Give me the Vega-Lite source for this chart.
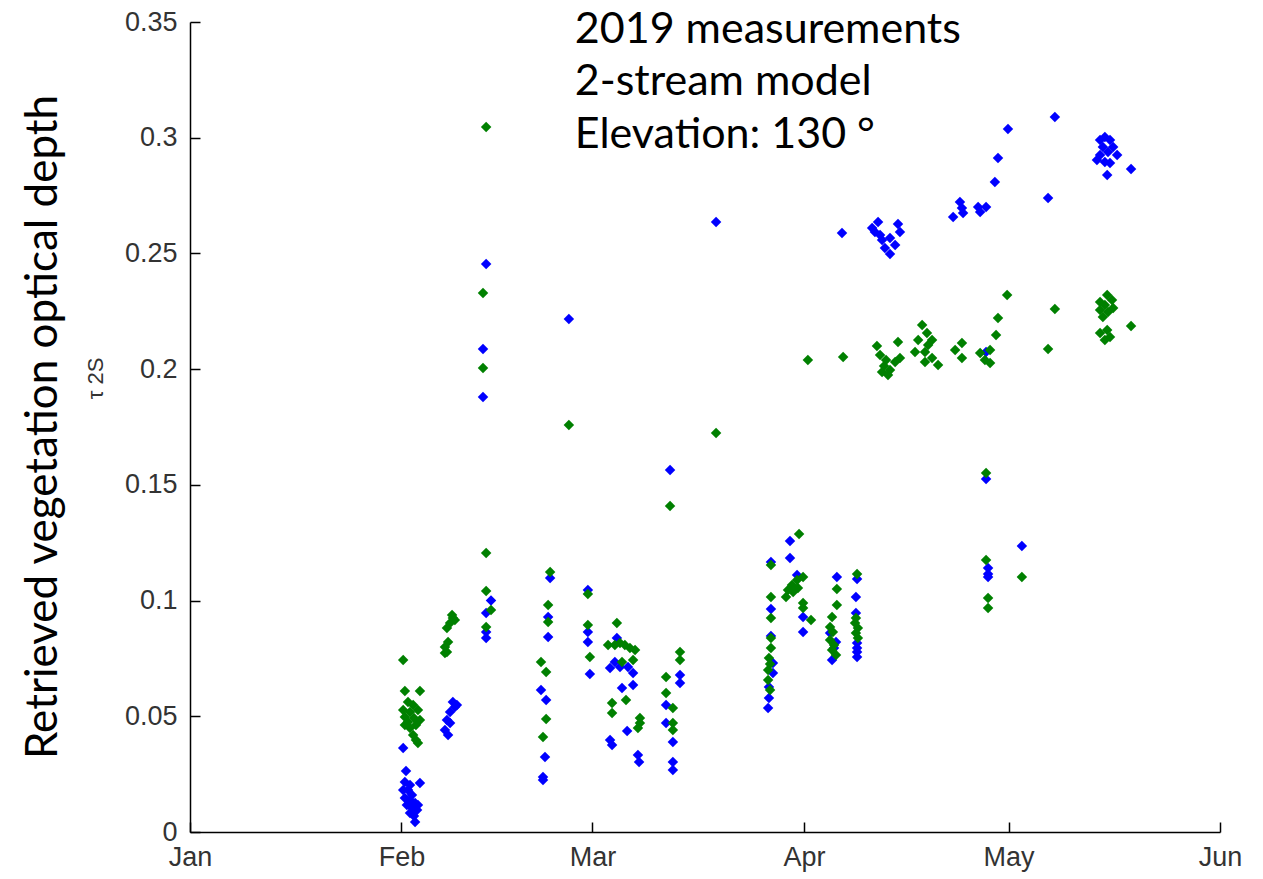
{
  "$schema": "https://vega.github.io/schema/vega-lite/v6.json",
  "width": 1030,
  "height": 810,
  "autosize": {"type": "none"},
  "padding": {"left": 190, "top": 22, "right": 43, "bottom": 47},
  "background": "white",
  "config": {"view": {"stroke": null}},
  "title": {"text": "Retrieved vegetation optical depth", "orient": "left", "anchor": "middle", "font": "Lato", "fontSize": 44, "fontWeight": "normal", "color": "black", "offset": 18},
  "resolve": {"axis": {"x": "independent", "y": "independent"}},
  "datasets": {
    "notes": [
      {"time": "2019-02-26T10:00", "tau": 0.341, "note": "2019 measurements\n2-stream model\nElevation: 130 °"}
    ],
    "points": [
      {"time": "2019-02-01T06:00", "tau": 0.0363, "series": "A"},
      {"time": "2019-02-01T16:00", "tau": 0.0264, "series": "A"},
      {"time": "2019-02-01T12:00", "tau": 0.0216, "series": "A"},
      {"time": "2019-02-02T06:00", "tau": 0.0203, "series": "A"},
      {"time": "2019-02-03T17:00", "tau": 0.0212, "series": "A"},
      {"time": "2019-02-01T06:00", "tau": 0.0181, "series": "A"},
      {"time": "2019-02-01T23:00", "tau": 0.0181, "series": "A"},
      {"time": "2019-02-02T13:00", "tau": 0.016, "series": "A"},
      {"time": "2019-02-01T12:00", "tau": 0.0147, "series": "A"},
      {"time": "2019-02-02T06:00", "tau": 0.0138, "series": "A"},
      {"time": "2019-02-03T00:00", "tau": 0.0125, "series": "A"},
      {"time": "2019-02-01T19:00", "tau": 0.0117, "series": "A"},
      {"time": "2019-02-03T10:00", "tau": 0.0117, "series": "A"},
      {"time": "2019-02-02T13:00", "tau": 0.0104, "series": "A"},
      {"time": "2019-02-03T07:00", "tau": 0.0095, "series": "A"},
      {"time": "2019-02-02T06:00", "tau": 0.0082, "series": "A"},
      {"time": "2019-02-02T20:00", "tau": 0.0069, "series": "A"},
      {"time": "2019-02-03T00:00", "tau": 0.0043, "series": "A"},
      {"time": "2019-02-08T13:00", "tau": 0.0562, "series": "A"},
      {"time": "2019-02-09T03:00", "tau": 0.0549, "series": "A"},
      {"time": "2019-02-08T20:00", "tau": 0.054, "series": "A"},
      {"time": "2019-02-08T03:00", "tau": 0.0519, "series": "A"},
      {"time": "2019-02-07T16:00", "tau": 0.0484, "series": "A"},
      {"time": "2019-02-08T03:00", "tau": 0.0471, "series": "A"},
      {"time": "2019-02-07T09:00", "tau": 0.0441, "series": "A"},
      {"time": "2019-02-07T20:00", "tau": 0.0419, "series": "A"},
      {"time": "2019-02-13T10:00", "tau": 0.2454, "series": "A"},
      {"time": "2019-02-12T23:00", "tau": 0.2087, "series": "A"},
      {"time": "2019-02-12T23:00", "tau": 0.188, "series": "A"},
      {"time": "2019-02-14T03:00", "tau": 0.1, "series": "A"},
      {"time": "2019-02-13T10:00", "tau": 0.0946, "series": "A"},
      {"time": "2019-02-13T10:00", "tau": 0.0864, "series": "A"},
      {"time": "2019-02-13T10:00", "tau": 0.0838, "series": "A"},
      {"time": "2019-02-22T19:00", "tau": 0.1098, "series": "A"},
      {"time": "2019-02-22T12:00", "tau": 0.0929, "series": "A"},
      {"time": "2019-02-22T12:00", "tau": 0.0843, "series": "A"},
      {"time": "2019-02-21T11:00", "tau": 0.0614, "series": "A"},
      {"time": "2019-02-22T05:00", "tau": 0.057, "series": "A"},
      {"time": "2019-02-22T01:00", "tau": 0.0324, "series": "A"},
      {"time": "2019-02-21T18:00", "tau": 0.0238, "series": "A"},
      {"time": "2019-02-21T18:00", "tau": 0.0225, "series": "A"},
      {"time": "2019-02-25T13:00", "tau": 0.2217, "series": "A"},
      {"time": "2019-02-28T08:00", "tau": 0.1046, "series": "A"},
      {"time": "2019-02-28T08:00", "tau": 0.0864, "series": "A"},
      {"time": "2019-02-28T08:00", "tau": 0.0821, "series": "A"},
      {"time": "2019-02-28T15:00", "tau": 0.0683, "series": "A"},
      {"time": "2019-03-04T14:00", "tau": 0.0838, "series": "A"},
      {"time": "2019-03-03T14:00", "tau": 0.0709, "series": "A"},
      {"time": "2019-03-05T01:00", "tau": 0.0713, "series": "A"},
      {"time": "2019-03-06T05:00", "tau": 0.0713, "series": "A"},
      {"time": "2019-03-06T23:00", "tau": 0.0687, "series": "A"},
      {"time": "2019-03-06T23:00", "tau": 0.0635, "series": "A"},
      {"time": "2019-03-05T08:00", "tau": 0.0622, "series": "A"},
      {"time": "2019-03-04T07:00", "tau": 0.0735, "series": "A"},
      {"time": "2019-03-06T02:00", "tau": 0.0436, "series": "A"},
      {"time": "2019-03-03T14:00", "tau": 0.0398, "series": "A"},
      {"time": "2019-03-03T21:00", "tau": 0.0376, "series": "A"},
      {"time": "2019-03-07T16:00", "tau": 0.0333, "series": "A"},
      {"time": "2019-03-07T20:00", "tau": 0.0302, "series": "A"},
      {"time": "2019-03-11T19:00", "tau": 0.0549, "series": "A"},
      {"time": "2019-03-11T19:00", "tau": 0.0471, "series": "A"},
      {"time": "2019-03-12T19:00", "tau": 0.0389, "series": "A"},
      {"time": "2019-03-12T19:00", "tau": 0.0302, "series": "A"},
      {"time": "2019-03-12T19:00", "tau": 0.0268, "series": "A"},
      {"time": "2019-03-13T20:00", "tau": 0.0678, "series": "A"},
      {"time": "2019-03-13T20:00", "tau": 0.0644, "series": "A"},
      {"time": "2019-03-12T09:00", "tau": 0.1564, "series": "A"},
      {"time": "2019-03-19T03:00", "tau": 0.2636, "series": "A"},
      {"time": "2019-03-27T04:00", "tau": 0.1167, "series": "A"},
      {"time": "2019-03-27T04:00", "tau": 0.0964, "series": "A"},
      {"time": "2019-03-27T04:00", "tau": 0.0847, "series": "A"},
      {"time": "2019-03-27T11:00", "tau": 0.073, "series": "A"},
      {"time": "2019-03-27T11:00", "tau": 0.0687, "series": "A"},
      {"time": "2019-03-26T21:00", "tau": 0.0627, "series": "A"},
      {"time": "2019-03-26T21:00", "tau": 0.0579, "series": "A"},
      {"time": "2019-03-26T18:00", "tau": 0.0536, "series": "A"},
      {"time": "2019-03-29T23:00", "tau": 0.1257, "series": "A"},
      {"time": "2019-03-29T23:00", "tau": 0.1184, "series": "A"},
      {"time": "2019-03-31T00:00", "tau": 0.111, "series": "A"},
      {"time": "2019-03-31T21:00", "tau": 0.0929, "series": "A"},
      {"time": "2019-03-31T21:00", "tau": 0.0864, "series": "A"},
      {"time": "2019-04-05T20:00", "tau": 0.1102, "series": "A"},
      {"time": "2019-04-04T20:00", "tau": 0.086, "series": "A"},
      {"time": "2019-04-05T17:00", "tau": 0.0821, "series": "A"},
      {"time": "2019-04-05T10:00", "tau": 0.0795, "series": "A"},
      {"time": "2019-04-05T03:00", "tau": 0.0743, "series": "A"},
      {"time": "2019-04-08T19:00", "tau": 0.1093, "series": "A"},
      {"time": "2019-04-08T15:00", "tau": 0.1015, "series": "A"},
      {"time": "2019-04-08T15:00", "tau": 0.0946, "series": "A"},
      {"time": "2019-04-08T19:00", "tau": 0.0817, "series": "A"},
      {"time": "2019-04-08T19:00", "tau": 0.0795, "series": "A"},
      {"time": "2019-04-08T19:00", "tau": 0.0778, "series": "A"},
      {"time": "2019-04-08T19:00", "tau": 0.0756, "series": "A"},
      {"time": "2019-04-06T14:00", "tau": 0.2588, "series": "A"},
      {"time": "2019-04-11T00:00", "tau": 0.261, "series": "A"},
      {"time": "2019-04-11T21:00", "tau": 0.2636, "series": "A"},
      {"time": "2019-04-11T10:00", "tau": 0.2593, "series": "A"},
      {"time": "2019-04-12T11:00", "tau": 0.2558, "series": "A"},
      {"time": "2019-04-13T15:00", "tau": 0.2567, "series": "A"},
      {"time": "2019-04-14T19:00", "tau": 0.2627, "series": "A"},
      {"time": "2019-04-15T02:00", "tau": 0.2593, "series": "A"},
      {"time": "2019-04-14T09:00", "tau": 0.2536, "series": "A"},
      {"time": "2019-04-12T21:00", "tau": 0.2523, "series": "A"},
      {"time": "2019-04-13T15:00", "tau": 0.2498, "series": "A"},
      {"time": "2019-04-12T04:00", "tau": 0.258, "series": "A"},
      {"time": "2019-04-22T21:00", "tau": 0.2657, "series": "A"},
      {"time": "2019-04-23T21:00", "tau": 0.2722, "series": "A"},
      {"time": "2019-04-24T04:00", "tau": 0.2696, "series": "A"},
      {"time": "2019-04-24T08:00", "tau": 0.2675, "series": "A"},
      {"time": "2019-04-26T13:00", "tau": 0.2701, "series": "A"},
      {"time": "2019-04-27T17:00", "tau": 0.2701, "series": "A"},
      {"time": "2019-04-26T20:00", "tau": 0.2679, "series": "A"},
      {"time": "2019-04-27T17:00", "tau": 0.2074, "series": "A"},
      {"time": "2019-04-27T17:00", "tau": 0.1525, "series": "A"},
      {"time": "2019-04-28T00:00", "tau": 0.1141, "series": "A"},
      {"time": "2019-04-28T00:00", "tau": 0.1115, "series": "A"},
      {"time": "2019-04-28T00:00", "tau": 0.1102, "series": "A"},
      {"time": "2019-04-29T00:00", "tau": 0.2809, "series": "A"},
      {"time": "2019-04-29T11:00", "tau": 0.2912, "series": "A"},
      {"time": "2019-04-30T22:00", "tau": 0.3038, "series": "A"},
      {"time": "2019-05-02T23:00", "tau": 0.1236, "series": "A"},
      {"time": "2019-05-06T19:00", "tau": 0.274, "series": "A"},
      {"time": "2019-05-07T19:00", "tau": 0.309, "series": "A"},
      {"time": "2019-05-14T10:00", "tau": 0.299, "series": "A"},
      {"time": "2019-05-15T03:00", "tau": 0.3003, "series": "A"},
      {"time": "2019-05-15T21:00", "tau": 0.299, "series": "A"},
      {"time": "2019-05-14T20:00", "tau": 0.296, "series": "A"},
      {"time": "2019-05-16T08:00", "tau": 0.296, "series": "A"},
      {"time": "2019-05-14T10:00", "tau": 0.2925, "series": "A"},
      {"time": "2019-05-15T14:00", "tau": 0.2938, "series": "A"},
      {"time": "2019-05-16T22:00", "tau": 0.2925, "series": "A"},
      {"time": "2019-05-13T23:00", "tau": 0.2904, "series": "A"},
      {"time": "2019-05-15T03:00", "tau": 0.2895, "series": "A"},
      {"time": "2019-05-15T21:00", "tau": 0.2891, "series": "A"},
      {"time": "2019-05-15T11:00", "tau": 0.2839, "series": "A"},
      {"time": "2019-05-18T23:00", "tau": 0.2865, "series": "A"},
      {"time": "2019-02-01T06:00", "tau": 0.0743, "series": "B"},
      {"time": "2019-02-01T12:00", "tau": 0.0609, "series": "B"},
      {"time": "2019-02-03T17:00", "tau": 0.0609, "series": "B"},
      {"time": "2019-02-01T23:00", "tau": 0.0562, "series": "B"},
      {"time": "2019-02-02T17:00", "tau": 0.0549, "series": "B"},
      {"time": "2019-02-01T06:00", "tau": 0.0527, "series": "B"},
      {"time": "2019-02-02T06:00", "tau": 0.0519, "series": "B"},
      {"time": "2019-02-03T10:00", "tau": 0.0527, "series": "B"},
      {"time": "2019-02-01T12:00", "tau": 0.0497, "series": "B"},
      {"time": "2019-02-02T20:00", "tau": 0.0493, "series": "B"},
      {"time": "2019-02-03T17:00", "tau": 0.0484, "series": "B"},
      {"time": "2019-02-01T23:00", "tau": 0.0475, "series": "B"},
      {"time": "2019-02-03T03:00", "tau": 0.0462, "series": "B"},
      {"time": "2019-02-01T12:00", "tau": 0.0462, "series": "B"},
      {"time": "2019-02-02T06:00", "tau": 0.0449, "series": "B"},
      {"time": "2019-02-02T17:00", "tau": 0.0419, "series": "B"},
      {"time": "2019-02-03T03:00", "tau": 0.0398, "series": "B"},
      {"time": "2019-02-03T10:00", "tau": 0.0385, "series": "B"},
      {"time": "2019-02-08T10:00", "tau": 0.0938, "series": "B"},
      {"time": "2019-02-08T13:00", "tau": 0.0925, "series": "B"},
      {"time": "2019-02-08T20:00", "tau": 0.0916, "series": "B"},
      {"time": "2019-02-08T03:00", "tau": 0.0903, "series": "B"},
      {"time": "2019-02-07T16:00", "tau": 0.0881, "series": "B"},
      {"time": "2019-02-07T20:00", "tau": 0.0821, "series": "B"},
      {"time": "2019-02-07T09:00", "tau": 0.0799, "series": "B"},
      {"time": "2019-02-07T16:00", "tau": 0.0778, "series": "B"},
      {"time": "2019-02-07T09:00", "tau": 0.0773, "series": "B"},
      {"time": "2019-02-13T10:00", "tau": 0.3046, "series": "B"},
      {"time": "2019-02-12T23:00", "tau": 0.2329, "series": "B"},
      {"time": "2019-02-12T23:00", "tau": 0.2005, "series": "B"},
      {"time": "2019-02-13T10:00", "tau": 0.1206, "series": "B"},
      {"time": "2019-02-13T10:00", "tau": 0.1041, "series": "B"},
      {"time": "2019-02-14T03:00", "tau": 0.0959, "series": "B"},
      {"time": "2019-02-13T10:00", "tau": 0.0886, "series": "B"},
      {"time": "2019-02-22T19:00", "tau": 0.1123, "series": "B"},
      {"time": "2019-02-22T12:00", "tau": 0.0981, "series": "B"},
      {"time": "2019-02-22T12:00", "tau": 0.0907, "series": "B"},
      {"time": "2019-02-21T11:00", "tau": 0.0735, "series": "B"},
      {"time": "2019-02-22T05:00", "tau": 0.0691, "series": "B"},
      {"time": "2019-02-22T05:00", "tau": 0.0488, "series": "B"},
      {"time": "2019-02-21T18:00", "tau": 0.041, "series": "B"},
      {"time": "2019-02-25T13:00", "tau": 0.1759, "series": "B"},
      {"time": "2019-02-28T08:00", "tau": 0.1028, "series": "B"},
      {"time": "2019-02-28T08:00", "tau": 0.0894, "series": "B"},
      {"time": "2019-02-28T15:00", "tau": 0.0756, "series": "B"},
      {"time": "2019-03-04T14:00", "tau": 0.0903, "series": "B"},
      {"time": "2019-03-03T07:00", "tau": 0.0808, "series": "B"},
      {"time": "2019-03-04T07:00", "tau": 0.0808, "series": "B"},
      {"time": "2019-03-05T01:00", "tau": 0.0817, "series": "B"},
      {"time": "2019-03-05T18:00", "tau": 0.0808, "series": "B"},
      {"time": "2019-03-06T12:00", "tau": 0.0795, "series": "B"},
      {"time": "2019-03-07T06:00", "tau": 0.0786, "series": "B"},
      {"time": "2019-03-05T08:00", "tau": 0.0735, "series": "B"},
      {"time": "2019-03-06T23:00", "tau": 0.0743, "series": "B"},
      {"time": "2019-03-03T21:00", "tau": 0.0557, "series": "B"},
      {"time": "2019-03-03T21:00", "tau": 0.0514, "series": "B"},
      {"time": "2019-03-05T22:00", "tau": 0.057, "series": "B"},
      {"time": "2019-03-07T23:00", "tau": 0.0493, "series": "B"},
      {"time": "2019-03-07T23:00", "tau": 0.0471, "series": "B"},
      {"time": "2019-03-07T16:00", "tau": 0.0449, "series": "B"},
      {"time": "2019-03-11T19:00", "tau": 0.067, "series": "B"},
      {"time": "2019-03-11T19:00", "tau": 0.0601, "series": "B"},
      {"time": "2019-03-12T19:00", "tau": 0.0536, "series": "B"},
      {"time": "2019-03-12T19:00", "tau": 0.0471, "series": "B"},
      {"time": "2019-03-12T19:00", "tau": 0.0441, "series": "B"},
      {"time": "2019-03-13T20:00", "tau": 0.0778, "series": "B"},
      {"time": "2019-03-13T20:00", "tau": 0.0743, "series": "B"},
      {"time": "2019-03-12T09:00", "tau": 0.1409, "series": "B"},
      {"time": "2019-03-19T03:00", "tau": 0.1724, "series": "B"},
      {"time": "2019-03-27T04:00", "tau": 0.1154, "series": "B"},
      {"time": "2019-03-27T04:00", "tau": 0.1015, "series": "B"},
      {"time": "2019-03-27T04:00", "tau": 0.0925, "series": "B"},
      {"time": "2019-03-27T04:00", "tau": 0.0838, "series": "B"},
      {"time": "2019-03-27T04:00", "tau": 0.0795, "series": "B"},
      {"time": "2019-03-26T21:00", "tau": 0.0752, "series": "B"},
      {"time": "2019-03-27T01:00", "tau": 0.0726, "series": "B"},
      {"time": "2019-03-26T18:00", "tau": 0.07, "series": "B"},
      {"time": "2019-03-26T18:00", "tau": 0.0657, "series": "B"},
      {"time": "2019-03-27T01:00", "tau": 0.0614, "series": "B"},
      {"time": "2019-03-31T07:00", "tau": 0.1288, "series": "B"},
      {"time": "2019-03-31T21:00", "tau": 0.1102, "series": "B"},
      {"time": "2019-03-31T00:00", "tau": 0.1089, "series": "B"},
      {"time": "2019-03-30T06:00", "tau": 0.1067, "series": "B"},
      {"time": "2019-03-29T16:00", "tau": 0.1046, "series": "B"},
      {"time": "2019-03-30T10:00", "tau": 0.1037, "series": "B"},
      {"time": "2019-03-29T09:00", "tau": 0.1015, "series": "B"},
      {"time": "2019-03-31T03:00", "tau": 0.1054, "series": "B"},
      {"time": "2019-03-31T21:00", "tau": 0.099, "series": "B"},
      {"time": "2019-03-31T21:00", "tau": 0.0968, "series": "B"},
      {"time": "2019-04-02T01:00", "tau": 0.0916, "series": "B"},
      {"time": "2019-04-05T20:00", "tau": 0.105, "series": "B"},
      {"time": "2019-04-05T20:00", "tau": 0.0981, "series": "B"},
      {"time": "2019-04-05T03:00", "tau": 0.0929, "series": "B"},
      {"time": "2019-04-04T20:00", "tau": 0.0886, "series": "B"},
      {"time": "2019-04-05T06:00", "tau": 0.0864, "series": "B"},
      {"time": "2019-04-04T20:00", "tau": 0.083, "series": "B"},
      {"time": "2019-04-05T10:00", "tau": 0.0808, "series": "B"},
      {"time": "2019-04-05T03:00", "tau": 0.0786, "series": "B"},
      {"time": "2019-04-05T17:00", "tau": 0.0765, "series": "B"},
      {"time": "2019-04-08T19:00", "tau": 0.1115, "series": "B"},
      {"time": "2019-04-08T15:00", "tau": 0.0925, "series": "B"},
      {"time": "2019-04-08T12:00", "tau": 0.0903, "series": "B"},
      {"time": "2019-04-08T22:00", "tau": 0.0881, "series": "B"},
      {"time": "2019-04-08T15:00", "tau": 0.086, "series": "B"},
      {"time": "2019-04-08T22:00", "tau": 0.0838, "series": "B"},
      {"time": "2019-04-01T14:00", "tau": 0.204, "series": "B"},
      {"time": "2019-04-06T18:00", "tau": 0.2052, "series": "B"},
      {"time": "2019-04-11T17:00", "tau": 0.21, "series": "B"},
      {"time": "2019-04-12T04:00", "tau": 0.2061, "series": "B"},
      {"time": "2019-04-12T18:00", "tau": 0.2014, "series": "B"},
      {"time": "2019-04-13T15:00", "tau": 0.1996, "series": "B"},
      {"time": "2019-04-14T09:00", "tau": 0.2031, "series": "B"},
      {"time": "2019-04-13T08:00", "tau": 0.1975, "series": "B"},
      {"time": "2019-04-15T02:00", "tau": 0.2048, "series": "B"},
      {"time": "2019-04-14T19:00", "tau": 0.2117, "series": "B"},
      {"time": "2019-04-12T11:00", "tau": 0.1988, "series": "B"},
      {"time": "2019-04-13T01:00", "tau": 0.204, "series": "B"},
      {"time": "2019-04-18T08:00", "tau": 0.2191, "series": "B"},
      {"time": "2019-04-19T01:00", "tau": 0.2156, "series": "B"},
      {"time": "2019-04-19T19:00", "tau": 0.2126, "series": "B"},
      {"time": "2019-04-17T18:00", "tau": 0.2126, "series": "B"},
      {"time": "2019-04-17T07:00", "tau": 0.2074, "series": "B"},
      {"time": "2019-04-18T18:00", "tau": 0.2074, "series": "B"},
      {"time": "2019-04-19T19:00", "tau": 0.2048, "series": "B"},
      {"time": "2019-04-18T18:00", "tau": 0.2031, "series": "B"},
      {"time": "2019-04-20T16:00", "tau": 0.2018, "series": "B"},
      {"time": "2019-04-19T05:00", "tau": 0.2104, "series": "B"},
      {"time": "2019-04-23T04:00", "tau": 0.2083, "series": "B"},
      {"time": "2019-04-24T04:00", "tau": 0.2113, "series": "B"},
      {"time": "2019-04-24T04:00", "tau": 0.2048, "series": "B"},
      {"time": "2019-04-26T20:00", "tau": 0.207, "series": "B"},
      {"time": "2019-04-28T07:00", "tau": 0.2083, "series": "B"},
      {"time": "2019-04-27T13:00", "tau": 0.204, "series": "B"},
      {"time": "2019-04-28T07:00", "tau": 0.2027, "series": "B"},
      {"time": "2019-04-29T04:00", "tau": 0.2148, "series": "B"},
      {"time": "2019-04-29T11:00", "tau": 0.2221, "series": "B"},
      {"time": "2019-04-30T19:00", "tau": 0.232, "series": "B"},
      {"time": "2019-04-27T17:00", "tau": 0.1551, "series": "B"},
      {"time": "2019-04-27T17:00", "tau": 0.1175, "series": "B"},
      {"time": "2019-04-28T00:00", "tau": 0.1011, "series": "B"},
      {"time": "2019-04-28T00:00", "tau": 0.0968, "series": "B"},
      {"time": "2019-05-02T23:00", "tau": 0.1102, "series": "B"},
      {"time": "2019-05-06T19:00", "tau": 0.2087, "series": "B"},
      {"time": "2019-05-07T19:00", "tau": 0.226, "series": "B"},
      {"time": "2019-05-15T11:00", "tau": 0.232, "series": "B"},
      {"time": "2019-05-14T10:00", "tau": 0.229, "series": "B"},
      {"time": "2019-05-15T03:00", "tau": 0.2277, "series": "B"},
      {"time": "2019-05-16T04:00", "tau": 0.2299, "series": "B"},
      {"time": "2019-05-14T10:00", "tau": 0.2256, "series": "B"},
      {"time": "2019-05-15T14:00", "tau": 0.2247, "series": "B"},
      {"time": "2019-05-14T20:00", "tau": 0.2225, "series": "B"},
      {"time": "2019-05-16T08:00", "tau": 0.2264, "series": "B"},
      {"time": "2019-05-14T10:00", "tau": 0.2156, "series": "B"},
      {"time": "2019-05-15T11:00", "tau": 0.2169, "series": "B"},
      {"time": "2019-05-15T03:00", "tau": 0.2126, "series": "B"},
      {"time": "2019-05-15T21:00", "tau": 0.2139, "series": "B"},
      {"time": "2019-05-18T23:00", "tau": 0.2186, "series": "B"}
    ]
  },
  "layer": [
    {
      "data": {"name": "points"},
      "mark": {"type": "point", "shape": "diamond", "filled": true, "size": 110, "opacity": 1},
      "encoding": {
        "x": {
          "field": "time", "type": "temporal",
          "scale": {"domain": [{"year": 2019, "month": 1, "date": 1}, {"year": 2019, "month": 6, "date": 1}]},
          "axis": {
            "orient": "bottom",
            "title": null,
            "values": [{"year": 2019, "month": 1, "date": 1}, {"year": 2019, "month": 2, "date": 1}, {"year": 2019, "month": 3, "date": 1}, {"year": 2019, "month": 4, "date": 1}, {"year": 2019, "month": 5, "date": 1}, {"year": 2019, "month": 6, "date": 1}],
            "format": "%b",
            "grid": false,
            "labelFlush": false,
            "labelOverlap": false,
            "ticks": false,
            "tickSize": 0,
            "domainColor": "black",
            "domainWidth": 1.5,
            "labelFont": "Liberation Sans",
            "labelFontSize": 27,
            "labelColor": "#333333",
            "labelPadding": 12
          }
        },
        "y": {
          "field": "tau", "type": "quantitative",
          "scale": {"domain": [0, 0.35], "nice": false},
          "axis": {
            "orient": "left",
            "title": "τ 2S",
            "values": [0, 0.05, 0.1, 0.15, 0.2, 0.25, 0.3, 0.35],
            "format": ".2~f",
            "grid": false,
            "labelOverlap": false,
            "ticks": false,
            "tickSize": 0,
            "domainColor": "black",
            "domainWidth": 1.5,
            "labelFont": "Liberation Sans",
            "labelFontSize": 27,
            "labelColor": "#333333",
            "labelPadding": 13,
            "titleFont": "Liberation Sans",
            "titleFontSize": 22,
            "titleFontWeight": "normal",
            "titleColor": "#333333",
            "titleAngle": -90,
            "titleAlign": "center",
            "titleBaseline": "middle",
            "titleX": -95,
            "titleY": 356
          }
        },
        "color": {
          "field": "series", "type": "nominal",
          "scale": {"domain": ["A", "B"], "range": ["#0000ff", "#008000"]},
          "legend": null
        }
      }
    },
    {
      "data": {"name": "notes"},
      "mark": {"type": "text", "align": "left", "baseline": "alphabetic", "font": "Lato", "fontSize": 43, "lineBreak": "\n", "lineHeight": 52.5, "color": "black"},
      "encoding": {
        "x": {
          "field": "time", "type": "temporal",
          "axis": {
            "orient": "bottom",
            "offset": -10,
            "title": null,
            "values": [{"year": 2019, "month": 1, "date": 1}, {"year": 2019, "month": 2, "date": 1}, {"year": 2019, "month": 3, "date": 1}, {"year": 2019, "month": 4, "date": 1}, {"year": 2019, "month": 5, "date": 1}, {"year": 2019, "month": 6, "date": 1}],
            "domain": false,
            "labels": false,
            "grid": false,
            "ticks": true,
            "tickSize": 10,
            "tickColor": "black",
            "tickWidth": 1.5
          }
        },
        "y": {
          "field": "tau", "type": "quantitative",
          "axis": {
            "orient": "left",
            "offset": -10,
            "title": null,
            "values": [0, 0.05, 0.1, 0.15, 0.2, 0.25, 0.3, 0.35],
            "domain": false,
            "labels": false,
            "grid": false,
            "ticks": true,
            "tickSize": 10,
            "tickColor": "black",
            "tickWidth": 1.5
          }
        },
        "text": {"field": "note"}
      }
    }
  ]
}
